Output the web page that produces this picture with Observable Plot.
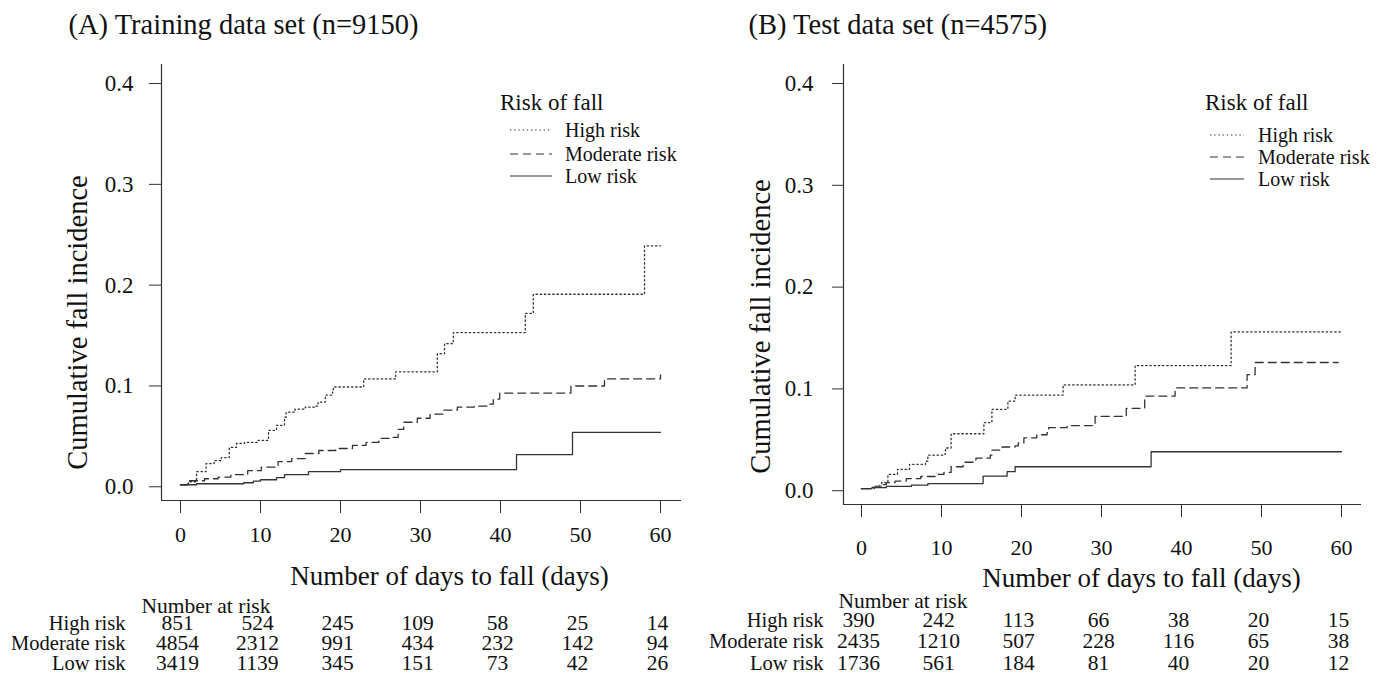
<!DOCTYPE html>
<html><head><meta charset="utf-8">
<script src="https://cdn.jsdelivr.net/npm/d3@7"></script>
<script src="https://cdn.jsdelivr.net/npm/@observablehq/plot@0.6"></script>
<style>
body{margin:0;background:#fff;}
#wrap{position:relative;width:1389px;height:682px;font-family:"Liberation Serif","Times New Roman",serif;color:#111;overflow:hidden;}
.panel{position:absolute;top:0;}
.legend{position:absolute;left:0;top:0;}
</style></head><body><div id="wrap"></div>
<script>
// ---------- data ----------
const groups = ["High risk", "Moderate risk", "Low risk"];
const dayTicks = [0, 10, 20, 30, 40, 50, 60];
const yTicks = [0, 0.1, 0.2, 0.3, 0.4];

// (A) Training data set: cumulative incidence step functions (day, value)
const trainHighDay = [0, 1, 2, 3.2, 4.2, 5.1, 6.1, 7, 8, 9.7, 11, 12, 13, 13.2, 14.3, 15.6, 16.8, 17.2, 18.1, 19, 19.1, 22.9, 26.9, 32.1, 33, 34.1, 43.1, 44.1, 58, 60];
const trainHighVal = [0, 0.003, 0.013, 0.021, 0.024, 0.027, 0.037, 0.041, 0.042, 0.044, 0.054, 0.059, 0.067, 0.072, 0.075, 0.077, 0.078, 0.082, 0.089, 0.092, 0.097, 0.105, 0.112, 0.130, 0.140, 0.151, 0.170, 0.189, 0.237, 0.237];
const trainModDay = [0, 0.9, 3, 4.7, 6.3, 8.4, 10.1, 11.8, 12.2, 13.9, 15.6, 17.3, 19.4, 21.5, 23.2, 24.8, 26.5, 27.2, 27.9, 29.6, 31.2, 32.9, 34.6, 36.7, 38.4, 39.1, 39.9, 48.8, 53, 60];
const trainModVal = [0, 0.004, 0.006, 0.0076, 0.010, 0.014, 0.0175, 0.019, 0.023, 0.026, 0.031, 0.034, 0.036, 0.039, 0.042, 0.046, 0.047, 0.055, 0.062, 0.066, 0.070, 0.074, 0.077, 0.078, 0.080, 0.085, 0.091, 0.098, 0.105, 0.109];
const trainLowDay = [0, 2, 7.9, 9.1, 10, 12, 13, 16, 20, 42, 49, 60];
const trainLowVal = [0, 0.001, 0.002, 0.0036, 0.005, 0.007, 0.010, 0.013, 0.015, 0.030, 0.052, 0.052];

// (B) Test data set
const testHighDay = [0, 1.6, 2.5, 3.3, 4.5, 6, 8, 8.3, 10.3, 10.5, 11.2, 15.3, 16.3, 18.3, 19.2, 25.2, 34.2, 46.2, 60];
const testHighVal = [0, 0.0026, 0.006, 0.014, 0.019, 0.024, 0.027, 0.033, 0.034, 0.040, 0.054, 0.065, 0.078, 0.086, 0.092, 0.102, 0.121, 0.154, 0.154];
const testModDay = [0, 1.3, 2.2, 3.1, 4.2, 5.6, 7.4, 9.2, 10.3, 11.2, 12.7, 14.3, 16.1, 16.3, 17.6, 19.2, 19.6, 20.3, 21.9, 23.2, 23.4, 25.7, 29.2, 33.1, 35.4, 39.2, 48.2, 49.2, 59.6];
const testModVal = [0, 0.0016, 0.004, 0.006, 0.0075, 0.010, 0.012, 0.014, 0.016, 0.0216, 0.026, 0.030, 0.033, 0.038, 0.041, 0.042, 0.045, 0.050, 0.053, 0.055, 0.060, 0.062, 0.071, 0.079, 0.091, 0.099, 0.112, 0.124, 0.124];
const testLowDay = [0, 1.3, 3.1, 6.25, 8.3, 15.2, 18.2, 19.2, 36.2, 60];
const testLowVal = [0, 0.001, 0.0023, 0.0036, 0.005, 0.0124, 0.0167, 0.0216, 0.0363, 0.0363];

// Number at risk tables
const trainAtRiskHigh = [851, 524, 245, 109, 58, 25, 14];
const trainAtRiskMod = [4854, 2312, 991, 434, 232, 142, 94];
const trainAtRiskLow = [3419, 1139, 345, 151, 73, 42, 26];
const testAtRiskHigh = [390, 242, 113, 66, 38, 20, 15];
const testAtRiskMod = [2435, 1210, 507, 228, 116, 65, 38];
const testAtRiskLow = [1736, 561, 184, 81, 40, 20, 12];

const trainTitle = "(A) Training data set (n=9150)";
const testTitle = "(B) Test data set (n=4575)";
const yLabel = "Cumulative fall incidence";
const xLabel = "Number of days to fall (days)";
const legendTitle = "Risk of fall";
const tableTitle = "Number at risk";

// ---------- styles ----------
const dashes = {"High risk": "1.4,2.8", "Moderate risk": "8,5", "Low risk": null};
const lineColor = "#333";
const FONT = "'Liberation Serif', 'Times New Roman', serif";

function rows(ds, vs) { return ds.map((d, i) => ({day: d, val: vs[i]})); }

function panel(cfg) {
  const T = {fill: "#111", lineAnchor: "middle"};
  const marks = [
    Plot.ruleX([cfg.xDomain[0]], {stroke: lineColor, strokeWidth: 1.2}),
    Plot.ruleY([cfg.yDomain[0]], {stroke: lineColor, strokeWidth: 1.2}),
    Plot.axisY({ticks: yTicks, tickFormat: d3.format(".1f"), tickSize: cfg.yTickSize, tickPadding: cfg.yTickPad,
      fontSize: 23, dy: 2, label: null, stroke: lineColor, fill: "#111"}),
    Plot.axisX({ticks: dayTicks, tickSize: 13, tickPadding: cfg.xTickPad, fontSize: 22, label: null, stroke: lineColor, fill: "#111"}),
  ];
  cfg.series.forEach((s, i) => {
    const opts = {x: "day", y: "val", curve: "step-after", stroke: lineColor, strokeWidth: 1.3};
    if (dashes[groups[i]]) opts.strokeDasharray = dashes[groups[i]];
    marks.push(Plot.line(rows(s[0], s[1]), opts));
  });
  // titles
  marks.push(Plot.text([cfg.title], {...T, frameAnchor: "top-left", textAnchor: "start", dx: cfg.titleDx, dy: -40, fontSize: 28.5}));
  marks.push(Plot.text([yLabel], {...T, frameAnchor: "left", textAnchor: "middle", rotate: -90, dx: cfg.yLabDx, dy: cfg.yLabDy, fontSize: 28.5}));
  marks.push(Plot.text([xLabel], {...T, frameAnchor: "bottom", textAnchor: "middle", dx: cfg.xLabDx, dy: cfg.xLabDy, fontSize: 27}));
  // number at risk table
  marks.push(Plot.text([tableTitle], {...T, frameAnchor: "bottom-left", textAnchor: "start", dx: cfg.tabTitleDx, dy: cfg.tabDy[0], fontSize: 21.5}));
  cfg.atRisk.forEach((arr, r) => {
    marks.push(Plot.text([groups[r]], {...T, frameAnchor: "bottom-left", textAnchor: "end", dx: cfg.rowLabDx, dy: cfg.tabDy[r + 1], fontSize: 20.5}));
    marks.push(Plot.text(dayTicks, {...T, x: d => d, text: (d, i) => String(arr[i]), frameAnchor: "bottom", textAnchor: "middle", dx: -3, dy: cfg.tabDy[r + 1], fontSize: 21.5}));
  });
  return Plot.plot({
    width: cfg.width, height: 682,
    marginLeft: cfg.mLeft, marginRight: cfg.mRight, marginTop: 64, marginBottom: cfg.mBottom,
    x: {domain: cfg.xDomain},
    y: {domain: cfg.yDomain},
    style: {fontFamily: FONT, fontSize: "22px", background: "transparent", color: "#111", overflow: "visible"},
    marks
  });
}

const wrap = document.getElementById("wrap");

const left = panel({
  width: 694, mLeft: 161, mRight: 13, mBottom: 182,
  xDomain: [-2.375, 62.625], yDomain: [-0.0156, 0.4169],
  yTickSize: 12, yTickPad: 16, xTickPad: 13,
  title: trainTitle, titleDx: -93, yLabDx: -84, yLabDy: 40, xLabDx: 28, xLabDy: 76,
  tabTitleDx: -20, rowLabDx: -36, tabDy: [106, 123, 143, 163],
  series: [[trainHighDay, trainHighVal], [trainModDay, trainModVal], [trainLowDay, trainLowVal]],
  atRisk: [trainAtRiskHigh, trainAtRiskMod, trainAtRiskLow]
});
left.classList.add("panel"); left.style.left = "0px";
wrap.appendChild(left);

const right = panel({
  width: 695, mLeft: 149, mRight: 28, mBottom: 178,
  xDomain: [-2.25, 62.5], yDomain: [-0.0155, 0.4167],
  yTickSize: 11, yTickPad: 19, xTickPad: 22,
  title: testTitle, titleDx: -95, yLabDx: -83, yLabDy: 42, xLabDx: 39, xLabDy: 74,
  tabTitleDx: -5, rowLabDx: -20, tabDy: [97, 116, 137, 159],
  series: [[testHighDay, testHighVal], [testModDay, testModVal], [testLowDay, testLowVal]],
  atRisk: [testAtRiskHigh, testAtRiskMod, testAtRiskLow]
});
right.classList.add("panel"); right.style.left = "694px";
wrap.appendChild(right);

// legends (decorative overlay)
const legends = [
  {x: 500, titleY: 102, rows: [130, 154, 176], sx: 510, ex: 552, tx: 565},
  {x: 1205, titleY: 102, rows: [135, 157, 179], sx: 1210, ex: 1244, tx: 1258}
];
const svg = d3.select(wrap).append("svg").attr("class", "legend").attr("width", 1389).attr("height", 682)
  .style("font-family", FONT).style("pointer-events", "none");
legends.forEach(L => {
  svg.append("text").attr("x", L.x).attr("y", L.titleY).attr("dy", "0.35em").attr("font-size", 23).attr("fill", "#111").text(legendTitle);
  groups.forEach((g, i) => {
    const ln = svg.append("line").attr("x1", L.sx).attr("x2", L.ex).attr("y1", L.rows[i]).attr("y2", L.rows[i])
      .attr("stroke", lineColor).attr("stroke-width", 1.2);
    if (dashes[g]) ln.attr("stroke-dasharray", dashes[g]);
    svg.append("text").attr("x", L.tx).attr("y", L.rows[i]).attr("dy", "0.35em").attr("font-size", 20).attr("fill", "#111").text(g);
  });
});
</script></body></html>
